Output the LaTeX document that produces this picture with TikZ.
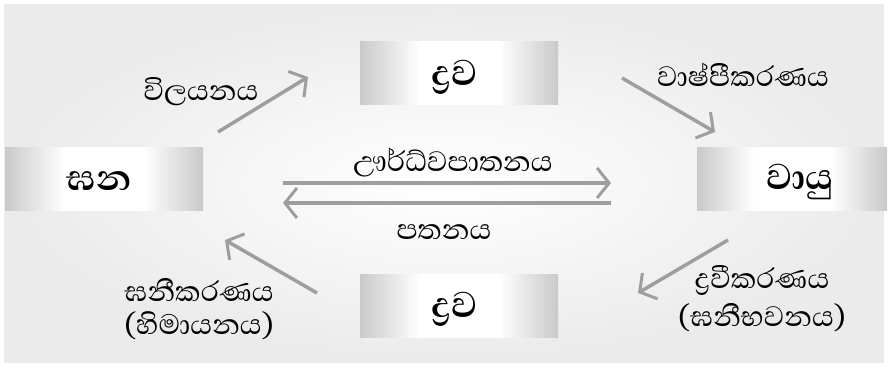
\documentclass[tikz,border=0pt]{standalone}
\usepackage{fontspec}
\newfontfamily\sinhala[Script=Sinhala]{Abhaya Libre}
\usetikzlibrary{arrows.meta}
\pgfdeclarehorizontalshading{boxshade}{100bp}{color(0bp)=(black!42); color(20bp)=(black!28); color(40bp)=(white); color(60bp)=(white); color(80bp)=(black!28); color(100bp)=(black!42)}
\begin{document}
\begin{tikzpicture}[x=1pt,y=-1pt,
  statebox/.style={shading=boxshade, minimum width=198pt, minimum height=63pt, inner sep=0pt},
  boxtext/.style={font=\sinhala\bfseries\fontsize{46}{48}\selectfont, inner sep=0pt},
  lbl/.style={font=\sinhala\fontsize{36}{38}\selectfont, inner sep=0pt, align=center},
  flow/.style={draw=black!38, line width=3.5pt, -{Straight Barb[length=12pt,width=30pt,line width=3pt]}}
]
\useasboundingbox (0,0) rectangle (888,367);
\shade[inner color=white, outer color=black!8] (4,4) rectangle (884,362);

% boxes
\node[statebox] (solid) at (104,179) {};
\node[statebox] (liqtop) at (459,73) {};
\node[statebox, minimum width=190pt] (gas) at (792,179) {};
\node[statebox] (liqbot) at (459,306) {};

\node[boxtext] (tsolid) at (99,181) {ඝන};
\node[boxtext] (tliqtop) at (455,77) {ද්‍රව};
\node[boxtext] (tgas) at (800,182) {වායු};
\node[boxtext] (tliqbot) at (455,309) {ද්‍රව};

% labels
\node[lbl] (l1) at (201,92) {විලයනය};
\node[lbl] (l2) at (743,75) {වාෂ්පීකරණය};
\node[lbl] (l3) at (453,163) {ඌර්ධ්වපාතනය};
\node[lbl] (l4) at (444,232) {පතනය};
\node[lbl, font=\sinhala\fontsize{36}{33}\selectfont] (l5) at (199,309) {ඝනීකරණය\\(හිමායනය)};
\node[lbl] (l6) at (762,299) {ද්‍රවීකරණය\\(ඝනීභවනය)};

% arrow end points
\coordinate (a1s) at (218,132); \coordinate (a1e) at (308,77);
\coordinate (a2s) at (622,78);  \coordinate (a2e) at (715,132);
\coordinate (a3s) at (283,183); \coordinate (a3e) at (611,183);
\coordinate (a4s) at (611,203); \coordinate (a4e) at (283,203);
\coordinate (a5s) at (728,240); \coordinate (a5e) at (638,293);
\coordinate (a6s) at (317,293); \coordinate (a6e) at (225,240);

\draw[flow] (a1s) -- (a1e);
\draw[flow] (a2s) -- (a2e);
\draw[flow] (a3s) -- (a3e);
\draw[flow] (a4s) -- (a4e);
\draw[flow] (a5s) -- (a5e);
\draw[flow] (a6s) -- (a6e);
\end{tikzpicture}
\end{document}
